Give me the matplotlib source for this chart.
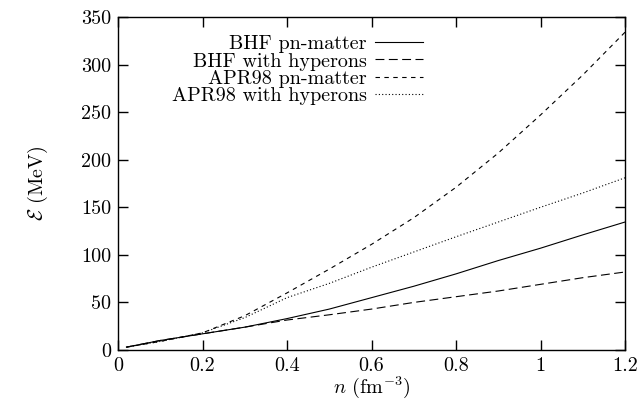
import matplotlib
matplotlib.use("Agg")
import matplotlib.pyplot as plt
import numpy as np

plt.rcParams["font.family"] = "cmr10"
plt.rcParams["mathtext.fontset"] = "cm"
plt.rcParams["axes.formatter.use_mathtext"] = True

# densidade (fm^-3) e energia (MeV)
n = [0.02, 0.1, 0.2, 0.3, 0.4, 0.5, 0.6, 0.7, 0.8, 0.9, 1.0, 1.1, 1.2]
bhf_pn = [3, 10, 17, 24, 33, 43, 55, 67, 80, 94, 107, 121, 134.5]
bhf_hyp = [3, 10, 17, 24, 31.5, 37, 43, 50, 56, 62, 69, 76, 82]
apr_pn = [3, 9, 18, 36, 60, 85, 111, 139, 171, 207, 247, 289, 334]
apr_hyp = [3, 9, 18, 34, 55, 70, 87, 103, 119, 134.5, 150, 165, 181]

xticks = [0, 0.2, 0.4, 0.6, 0.8, 1, 1.2]
yticks = [0, 50, 100, 150, 200, 250, 300, 350]

fs = 14.5

fig = plt.figure(figsize=(6.42, 4.09), dpi=100)
ax = fig.add_axes([118 / 642, 59 / 409, 507 / 642, 333 / 409])

lw = 0.8
ax.plot(n, bhf_pn, color="black", lw=lw, ls="-", label="BHF pn-matter")
ax.plot(n, bhf_hyp, color="black", lw=lw, ls=(0, (8, 4)), label="BHF with hyperons")
ax.plot(n, apr_pn, color="black", lw=lw, ls=(0, (4, 4)), label="APR98 pn-matter")
ax.plot(n, apr_hyp, color="black", lw=lw, ls=(0, (1, 2)), label="APR98 with hyperons")

ax.set_xlim(0, 1.2)
ax.set_ylim(0, 350)
ax.set_xticks(xticks)
ax.set_xticklabels(["%g" % v for v in xticks])
ax.set_yticks(yticks)
ax.set_yticklabels(["%g" % v for v in yticks])
ax.tick_params(direction="in", length=7, width=1.0, top=True, right=True,
               labelsize=fs, pad=5)
for s in ax.spines.values():
    s.set_linewidth(1.0)

ax.set_xlabel(r"$n$ (fm$^{-3}$)", fontsize=fs, labelpad=0)
ax.set_ylabel(r"$\mathcal{E}$ (MeV)", fontsize=fs, labelpad=22)

leg = ax.legend(loc="upper right", bbox_to_anchor=(0.6016, 0.945), frameon=False,
                markerfirst=False, fontsize=fs, handlelength=2.4, handletextpad=0.4,
                labelspacing=-0.05, borderpad=0, borderaxespad=0)

plt.savefig("out.png", dpi=100)
